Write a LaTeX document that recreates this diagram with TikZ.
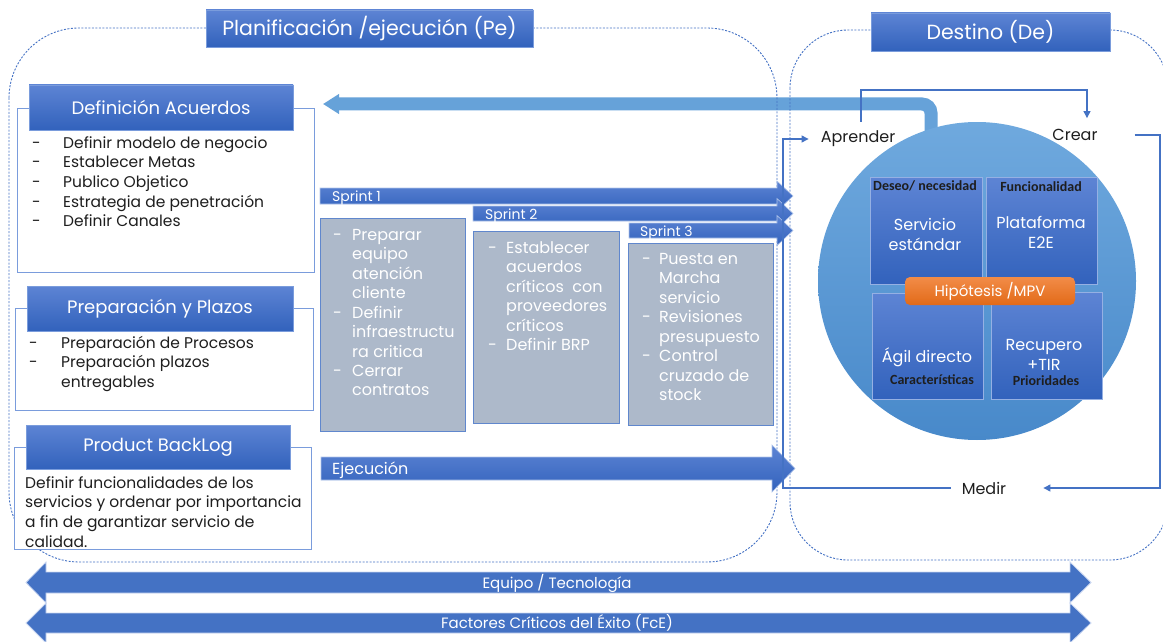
\documentclass[tikz,border=0pt]{standalone}
\usepackage{fontspec}
\setmainfont{Poppins}
\newfontfamily\calfont{Carlito}
\usetikzlibrary{arrows.meta, positioning, calc, backgrounds}
\definecolor{pblue}{HTML}{4472C4}
\definecolor{ptop}{HTML}{5D84D4}
\definecolor{pbot}{HTML}{3262BC}
\definecolor{pedge}{HTML}{7A9CDC}
\definecolor{pgray}{HTML}{ADB9CA}
\definecolor{psky}{HTML}{66A2D9}
\definecolor{pcirtop}{HTML}{6FA9DE}
\definecolor{pcirbot}{HTML}{4889CA}
\definecolor{portop}{HTML}{F28C48}
\definecolor{porbot}{HTML}{E26A18}
\definecolor{ptext}{HTML}{1E1E1E}
\tikzset{
  hdr/.style={rectangle, draw=pedge, line width=0.8pt, top color=ptop, bottom color=pbot,
              text=white, inner sep=0pt, font=\fontsize{18}{22}\selectfont},
  ttl/.style={hdr, font=\fontsize{20.5}{25}\selectfont},
  panel/.style={rectangle, draw=pedge, line width=1pt, fill=white, inner sep=0pt},
  sprintbox/.style={rectangle, draw=pblue!85!white, line width=1.2pt, fill=pgray, inner sep=0pt},
  litem/.style={text=ptext, inner sep=0pt, font=\fontsize{15.5}{19.7}\selectfont},
  sitem/.style={text=white, inner sep=0pt, font=\fontsize{16}{19.5}\selectfont},
  barlbl/.style={text=white, inner sep=0pt, font=\fontsize{14}{16}\selectfont},
  region/.style={draw=pblue, line width=0.9pt, dash pattern=on 2pt off 1.5pt},
  tile/.style={rectangle, draw=pedge!80!white, line width=0.8pt, top color=ptop, bottom color=pbot, inner sep=0pt},
  tiletxt/.style={text=white, align=center, inner sep=0pt, font=\fontsize{16}{20}\selectfont},
  tilehd/.style={text=ptext, inner sep=0pt, font=\calfont\bfseries\fontsize{14}{16}\selectfont},
  word/.style={text=ptext, inner sep=0pt, font=\fontsize{16}{19}\selectfont},
  cyc/.style={draw=pblue, line width=1.1pt, -{Triangle[length=7pt, width=7pt]}},
  sbar/.style={top color=ptop, bottom color=pbot, draw=pedge!60!white, line width=0.6pt},
  band/.style={fill=pblue, draw=pedge!40!white, line width=0.8pt},
  back/.style={draw=psky, line width=13pt, rounded corners=9pt, -{Triangle[length=16pt, width=19pt]}}
}
% block arrow pointing right: style, x start, x tip, y centre, half body, half head, head length
\newcommand{\rgtarrow}[7]{\path[#1] (#2,#4-#5) -- (#3-#7,#4-#5) -- (#3-#7,#4-#6) -- (#3,#4)
  -- (#3-#7,#4+#6) -- (#3-#7,#4+#5) -- (#2,#4+#5) -- cycle;}
% block arrow pointing both ways: style, left tip, left base, right base, right tip, y centre, half body, half head
\newcommand{\dblarrow}[8]{\path[#1] (#2,#6) -- (#3,#6-#8) -- (#3,#6-#7) -- (#4,#6-#7) -- (#4,#6-#8) -- (#5,#6)
  -- (#4,#6+#8) -- (#4,#6+#7) -- (#3,#6+#7) -- (#3,#6+#8) -- cycle;}

\begin{document}
\begin{tikzpicture}[x=1pt, y=-1pt]
  \useasboundingbox (0,0) rectangle (1163,642);

  % dashed frames of the two areas
  \draw[region, rounded corners=70pt] (9,28) rectangle (777,562);
  \draw[region, rounded corners=58pt] (790,30) rectangle (1168,560);

  \node[ttl, minimum width=327pt, minimum height=37pt] (peT) at (369.5,28.5) {Planificación /ejecución (Pe)};
  \node[ttl, minimum width=239pt, minimum height=38pt] (deT) at (990.5,32) {Destino (De)};

  % left column
  \node[panel, anchor=north west, minimum width=297pt, minimum height=164pt] (acuOut) at (17,108) {};
  \node[hdr, minimum width=264pt, minimum height=45pt] (acuHead) at (161,107.5) {Definición Acuerdos};
  \node[litem, anchor=base west] (acuList) at (32,148) {\begin{tabular}[t]{@{}p{31pt}@{}l@{}}
    -& Definir modelo de negocio\\
    -& Establecer Metas\\
    -& Publico Objetico\\
    -& Estrategia de penetración\\
    -& Definir Canales
  \end{tabular}};

  \node[panel, anchor=north west, minimum width=298pt, minimum height=102pt] (preOut) at (15,308) {};
  \node[hdr, minimum width=266pt, minimum height=45pt] (preHead) at (160,308.5) {Preparación y Plazos};
  \node[litem, anchor=base west] (preList) at (29,348) {\begin{tabular}[t]{@{}p{32pt}@{}l@{}}
    -& Preparación de Procesos\\
    -& Preparación plazos\\
    & entregables
  \end{tabular}};

  \node[panel, anchor=north west, minimum width=297pt, minimum height=102pt] (pbOut) at (14,447) {};
  \node[hdr, minimum width=264pt, minimum height=44pt] (pbHead) at (158,447) {Product BackLog};
  \node[litem, anchor=base west] (pbText) at (25,488) {\begin{tabular}[t]{@{}l@{}}
    Definir funcionalidades de los\\
    servicios y ordenar por importancia\\
    a fin de garantizar servicio de\\
    calidad.
  \end{tabular}};

  % sprints
  \node[sprintbox, anchor=north west, minimum width=145pt, minimum height=213pt] (s1box) at (320,218) {};
  \node[sprintbox, anchor=north west, minimum width=146pt, minimum height=192pt] (s2box) at (473,231) {};
  \node[sprintbox, anchor=north west, minimum width=145pt, minimum height=182pt] (s3box) at (628,243) {};

  \rgtarrow{sbar}{320}{793}{196}{8}{15}{16}
  \rgtarrow{sbar}{473}{793}{213.5}{7.5}{15}{16}
  \rgtarrow{sbar}{629}{793}{230.5}{7.5}{15}{16}
  \node[barlbl, anchor=base west] (sp1) at (332,201) {Sprint 1};
  \node[barlbl, anchor=base west] (sp2) at (485,219) {Sprint 2};
  \node[barlbl, anchor=base west] (sp3) at (640,236) {Sprint 3};

  \node[sitem, anchor=base west] (s1txt) at (333,240) {\begin{tabular}[t]{@{}p{19pt}@{}l@{}}
    -& Preparar\\ & equipo\\ & atención\\ & cliente\\
    -& Definir\\ & infraestructu\\ & ra critica\\
    -& Cerrar\\ & contratos
  \end{tabular}};
  \node[sitem, anchor=base west] (s2txt) at (488,253) {\begin{tabular}[t]{@{}p{18pt}@{}l@{}}
    -& Establecer\\ & acuerdos\\ & críticos\ \ con\\ & proveedores\\ & críticos\\
    -& Definir BRP
  \end{tabular}};
  \node[sitem, anchor=base west] (s3txt) at (642,264) {\begin{tabular}[t]{@{}p{17pt}@{}l@{}}
    -& Puesta en\\ & Marcha\\ & servicio\\
    -& Revisiones\\ & presupuesto\\
    -& Control\\ & cruzado de\\ & stock
  \end{tabular}};

  \rgtarrow{sbar}{321}{795}{468.5}{11.5}{23.5}{23}
  \node[barlbl, anchor=base west, font=\fontsize{16}{18}\selectfont] (exe) at (332,474) {Ejecución};

  % destination circle
  \node[circle, minimum size=318pt, inner sep=0pt, top color=pcirtop, bottom color=pcirbot] (goal) at (977,281) {};
  \node[tile, anchor=north west, minimum width=112pt, minimum height=107pt] (tDes) at (870,177) {};
  \node[tile, anchor=north west, minimum width=111pt, minimum height=107pt] (tFun) at (986,177) {};
  \node[tile, anchor=north west, minimum width=111pt, minimum height=106pt] (tAgi) at (872,293) {};
  \node[tile, anchor=north west, minimum width=111pt, minimum height=107pt] (tRec) at (991,292) {};
  \node[rectangle, rounded corners=5pt, minimum width=170pt, minimum height=28pt, inner sep=0pt,
        top color=portop, bottom color=porbot, text=white, font=\fontsize{15}{18}\selectfont] (hyp) at (990,291) {Hipótesis /MPV};

  \node[tilehd] (hDes) at (925,186) {Deseo/ necesidad};
  \node[tiletxt] (vDes) at (925,234) {Servicio\\estándar};
  \node[tilehd] (hFun) at (1041,187) {Funcionalidad};
  \node[tiletxt] (vFun) at (1041,232) {Plataforma\\E2E};
  \node[tiletxt] (vAgi) at (927,357) {Ágil directo};
  \node[tilehd] (hAgi) at (932,380) {Características};
  \node[tiletxt] (vRec) at (1044,355) {Recupero\\+TIR};
  \node[tilehd] (hRec) at (1046,381) {Prioridades};

  % learn / build / measure loop
  \node[word] (apr) at (858,139) {Aprender};
  \node[word] (cre) at (1075,135) {Crear};
  \node[word] (med) at (984,488) {Medir};
  \coordinate (tp) at (0,90);
  \coordinate (lt) at (783,0);
  \coordinate (rt) at (1160,0);
  \coordinate (ct) at ([shift={(12pt,11pt)}]cre.north);
  \draw[cyc] ([shift={(3pt,9pt)}]apr.north) |- (ct |- tp) -- (ct);
  \draw[cyc] ([xshift=37pt]cre.east) -| (rt |- med.east) -- ([xshift=37pt]med.east);
  \draw[cyc] ([xshift=-11pt]med.west) -| (lt |- apr.west) -- ([xshift=-12pt]apr.west);

  \begin{scope}[on background layer]
    \draw[back] ([shift={(-46pt,-12pt)}]goal.north) |- ([shift={(8pt,4pt)}]acuOut.north east);
  \end{scope}

  % bottom bands
  \dblarrow{band}{26}{46}{1070}{1091}{582.5}{10.5}{20.5}
  \dblarrow{band}{26}{46}{1070}{1091}{623}{10}{20}
  \node[barlbl, font=\fontsize{15}{18}\selectfont] (equ) at (557,583) {Equipo / Tecnología};
  \node[barlbl, font=\fontsize{15}{18}\selectfont] (fce) at (557,623) {Factores Críticos del Éxito (FcE)};
\end{tikzpicture}
\end{document}
